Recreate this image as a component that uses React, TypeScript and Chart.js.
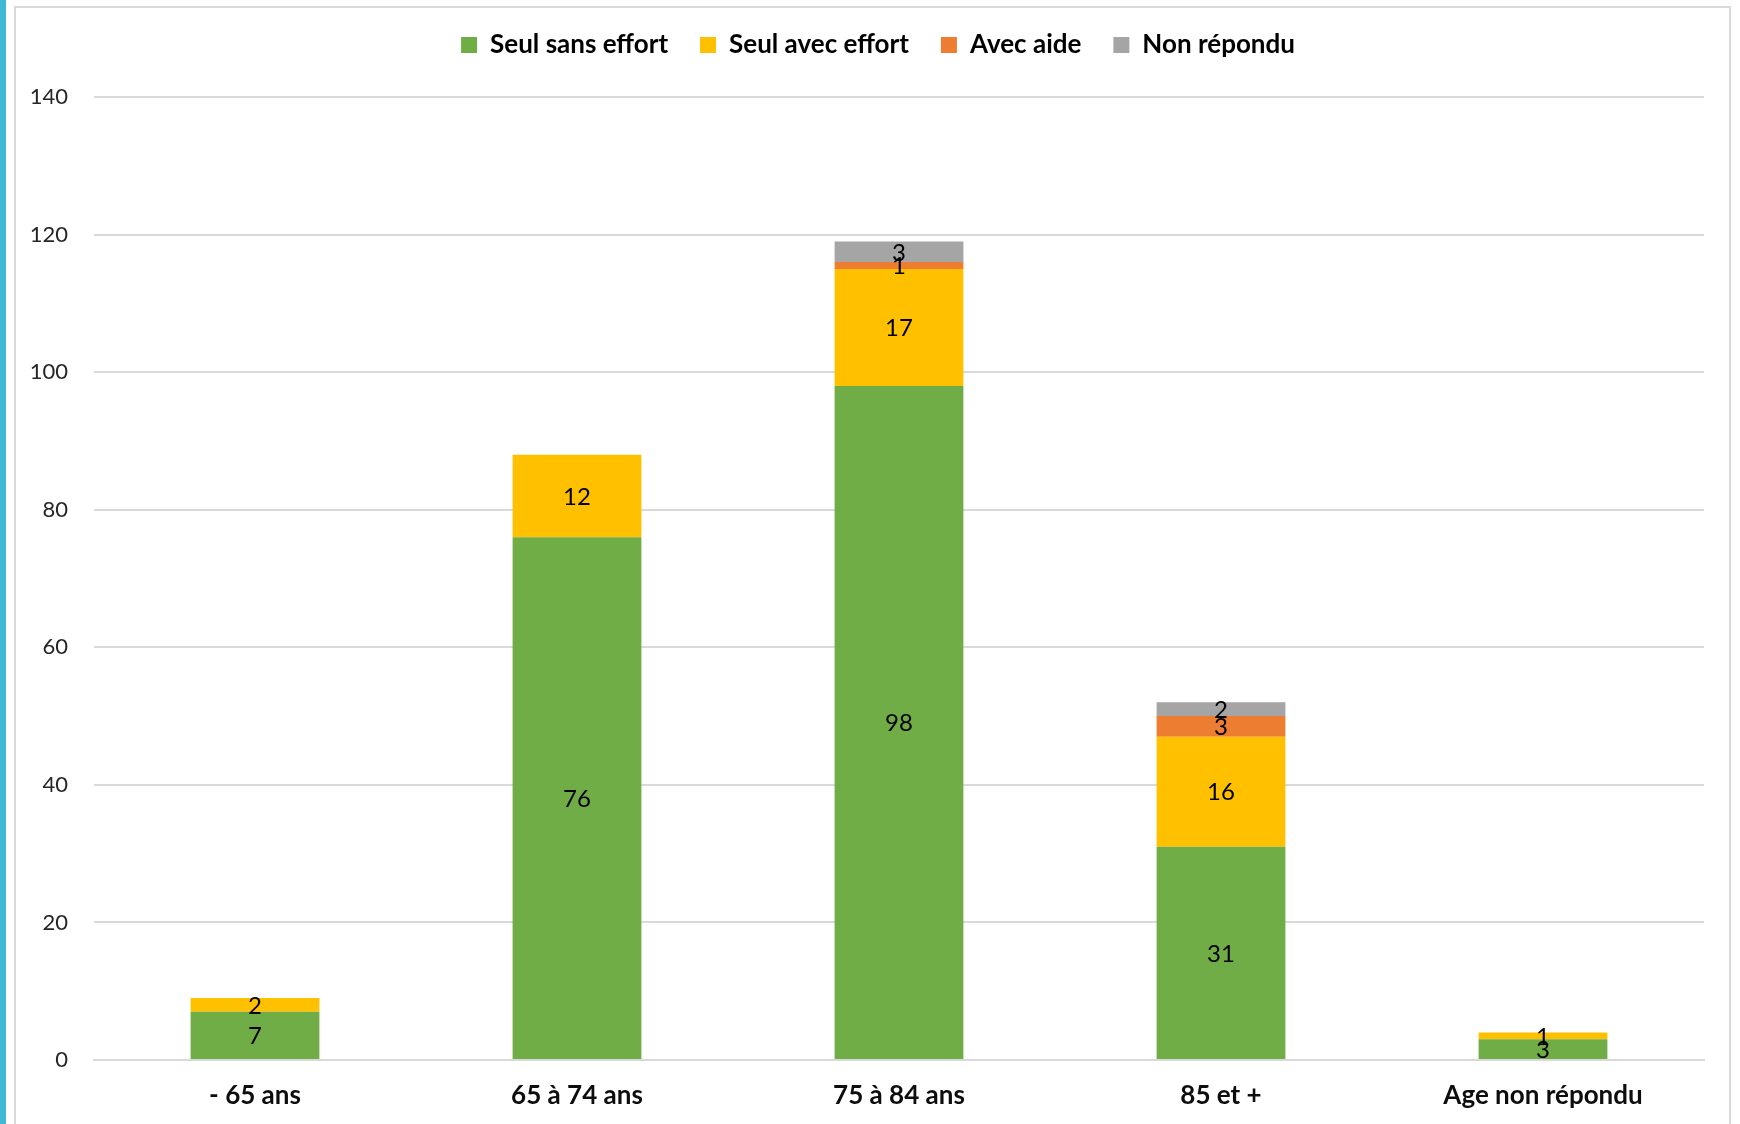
import React, { useEffect, useRef } from "react";
import { Chart, registerables } from "chart.js";

Chart.register(...registerables);

const categories = ["- 65 ans", "65 à 74 ans", "75 à 84 ans", "85 et +", "Age non répondu"];
const seulSansEffort = [7, 76, 98, 31, 3];
const seulAvecEffort = [2, 12, 17, 16, 1];
const avecAide = [0, 0, 1, 3, 0];
const nonRepondu = [0, 0, 3, 2, 0];
const seriesNames = ["Seul sans effort", "Seul avec effort", "Avec aide", "Non répondu"];
const seriesColors = ["#70AD47", "#FFC000", "#ED7D31", "#A5A5A5"];
const yMax = 140;
const yStep = 20;

const FONT = "Lato, 'Open Sans', sans-serif";

const dataLabels = {
  id: "dataLabels",
  afterDatasetsDraw(chart: any) {
    const ctx = chart.ctx;
    ctx.save();
    ctx.font = `400 24px ${FONT}`;
    ctx.fillStyle = "#000000";
    ctx.textAlign = "center";
    ctx.textBaseline = "middle";
    chart.data.datasets.forEach((ds: any, di: number) => {
      const meta = chart.getDatasetMeta(di);
      meta.data.forEach((el: any, i: number) => {
        const v = ds.data[i];
        if (!v) return;
        const y = (el.y + el.base) / 2;
        ctx.fillText(String(v), el.x, y + 1);
      });
    });
    ctx.restore();
  },
};

const legendTweak = {
  id: "legendTweak",
  beforeInit(chart: any) {
    const legend = chart.legend;
    if (!legend) return;
    const fit = legend.fit;
    legend.fit = function () {
      fit.bind(legend)();
      this.height = 97;
    };
  },
  afterLayout(chart: any) {
    const legend = chart.legend;
    if (!legend) return;
    legend.left += 26;
    legend.right += 26;
  },
};

export default function App() {
  const ref = useRef<HTMLCanvasElement | null>(null);
  useEffect(() => {
    document.body.style.margin = "0";
    document.body.style.overflow = "hidden";
    const canvas = ref.current;
    if (!canvas) return;
    const datasets = [seulSansEffort, seulAvecEffort, avecAide, nonRepondu].map((d, i) => ({
      label: seriesNames[i],
      data: d,
      backgroundColor: seriesColors[i],
      borderWidth: 0,
      barPercentage: 0.4,
      categoryPercentage: 1,
    }));
    const chart = new Chart(canvas, {
      type: "bar",
      data: { labels: categories, datasets },
      plugins: [dataLabels, legendTweak],
      options: {
        responsive: false,
        animation: false,
        maintainAspectRatio: false,
        layout: { padding: { left: 0, right: 36, top: 0, bottom: 0 } },
        plugins: {
          legend: {
            position: "top",
            labels: {
              boxWidth: 16,
              boxHeight: 16,
              padding: 32,
              color: "#000000",
              font: { family: FONT, size: 26, weight: "bold" },
            },
          },
          tooltip: { enabled: false },
        },
        scales: {
          x: {
            stacked: true,
            grid: { display: false, drawTicks: false },
            border: { display: true, color: "#D9D9D9", width: 2 },
            ticks: {
              padding: 20,
              color: "#0d0d0d",
              font: { family: FONT, size: 26, weight: "bold" },
              maxRotation: 0,
              autoSkip: false,
            },
            afterFit(scale: any) {
              scale.height = 64;
            },
          },
          y: {
            stacked: true,
            min: 0,
            max: yMax,
            ticks: {
              stepSize: yStep,
              padding: 26,
              color: "#262626",
              font: { family: FONT, size: 22 },
            },
            grid: { color: "#D9D9D9", lineWidth: 2, drawTicks: false },
            border: { display: false },
            afterFit(scale: any) {
              scale.width = 94;
            },
          },
        },
      },
    });
    return () => chart.destroy();
  }, []);

  return (
    <div style={{ position: "relative", width: 1740, height: 1124, overflow: "hidden", background: "#ffffff" }}>
      <div style={{ position: "absolute", left: 0, top: 0, width: 6, height: 1124, background: "#41B9D5" }} />
      <div
        style={{
          position: "absolute",
          left: 14,
          top: 6,
          width: 1717,
          height: 1200,
          border: "2px solid #D9D9D9",
          boxSizing: "border-box",
        }}
      />
      <canvas ref={ref} width={1740} height={1124} style={{ position: "absolute", left: 0, top: 0, width: 1740, height: 1124 }} />
    </div>
  );
}
